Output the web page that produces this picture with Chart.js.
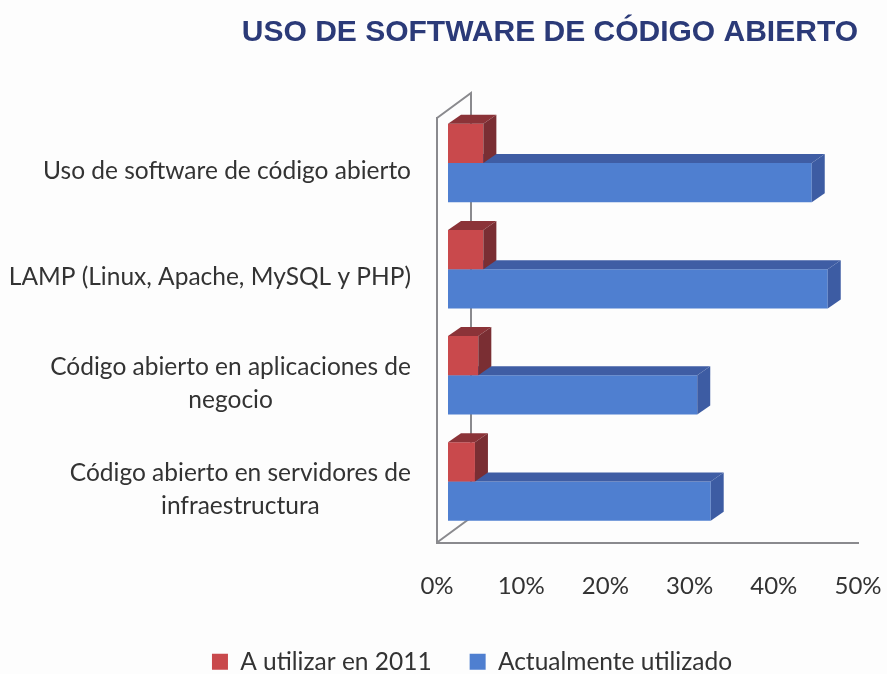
<!DOCTYPE html>
<html lang="es">
<head>
<meta charset="utf-8">
<title>Uso de software de código abierto</title>
<script src="https://cdn.jsdelivr.net/npm/chart.js@4/dist/chart.umd.js"></script>
<style>
  html, body { margin: 0; padding: 0; background: #fdfdfd; }
  canvas { display: block; }
</style>
</head>
<body>
<canvas id="softwareChart" width="887" height="674"></canvas>
<script>
const categories = [
  ['Uso de software de código abierto'],
  ['LAMP (Linux, Apache, MySQL y PHP)'],
  ['Código abierto en aplicaciones de', 'negocio'],
  ['Código abierto en servidores de', 'infraestructura']
];
const plannedValues = [4.2, 4.2, 3.6, 3.2];
const currentValues = [43.2, 45.1, 29.6, 31.2];
const xTicks = [0, 10, 20, 30, 40, 50];

const FONT = 'Lato, sans-serif';
const TEXT_COLOR = '#333333';
const WALL_COLOR = '#8a8a8e';

// bars sit a bit behind the front of the box
const FRONT_SHIFT = { x: 11, y: -8 };
const BAR_DEPTH = { x: 13, y: -9 };
const WALL_DEPTH = { x: 34, y: -25 };

const sideColors = [
  { top: '#8b3338', side: '#7a2e33' },
  { top: '#3f5da4', side: '#3d5ca3' }
];

function drawFace(ctx, points, color) {
  ctx.fillStyle = color;
  ctx.beginPath();
  points.forEach(([x, y], i) => (i ? ctx.lineTo(x, y) : ctx.moveTo(x, y)));
  ctx.closePath();
  ctx.fill();
}

const box3d = {
  id: 'box3d',
  beforeDatasetsDraw(chart) {
    const { ctx, chartArea: { left, top, bottom } } = chart;
    ctx.save();
    ctx.strokeStyle = WALL_COLOR;
    ctx.lineWidth = 2;
    ctx.beginPath();
    ctx.moveTo(left, top);
    ctx.lineTo(left + WALL_DEPTH.x, top + WALL_DEPTH.y);
    ctx.lineTo(left + WALL_DEPTH.x, bottom + WALL_DEPTH.y);
    ctx.lineTo(left, bottom);
    ctx.stroke();
    ctx.restore();
    // datasets are drawn shifted, undone in afterDatasetsDraw
    ctx.save();
    ctx.translate(FRONT_SHIFT.x, FRONT_SHIFT.y);
  },
  afterDatasetDraw(chart, args) {
    const { ctx } = chart;
    const colors = sideColors[args.index];
    chart.getDatasetMeta(args.index).data.forEach(bar => {
      const { x, y, base, height } = bar.getProps(['x', 'y', 'base', 'height'], true);
      const y0 = y - height / 2;
      const y1 = y + height / 2;
      const dx = BAR_DEPTH.x;
      const dy = BAR_DEPTH.y;
      drawFace(ctx, [[base, y0], [base + dx, y0 + dy], [x + dx, y0 + dy], [x, y0]], colors.top);
      drawFace(ctx, [[x, y0], [x + dx, y0 + dy], [x + dx, y1 + dy], [x, y1]], colors.side);
    });
  },
  afterDatasetsDraw(chart) {
    chart.ctx.restore();
    drawCategoryLabels(chart);
  }
};

// each label block is right aligned, its lines centred on each other
function drawCategoryLabels(chart) {
  const { ctx, scales: { y } } = chart;
  const labelRight = 411;
  const lineHeight = 33;
  ctx.save();
  ctx.font = '24.5px ' + FONT;
  ctx.fillStyle = TEXT_COLOR;
  ctx.textAlign = 'center';
  ctx.textBaseline = 'middle';
  categories.forEach((lines, i) => {
    const widest = Math.max(...lines.map(line => ctx.measureText(line).width));
    const centerX = labelRight - widest / 2;
    const firstY = y.getPixelForTick(i) - (lines.length - 1) * lineHeight / 2;
    lines.forEach((line, j) => ctx.fillText(line, centerX, firstY + j * lineHeight));
  });
  ctx.restore();
}

new Chart(document.getElementById('softwareChart'), {
  type: 'bar',
  data: {
    labels: categories,
    datasets: [
      { label: 'A utilizar en 2011', data: plannedValues, backgroundColor: '#c9494c' },
      { label: 'Actualmente utilizado', data: currentValues, backgroundColor: '#4f7fd0' }
    ]
  },
  options: {
    indexAxis: 'y',
    responsive: false,
    animation: false,
    layout: { padding: { left: 86, right: 29, top: 15, bottom: -10 } },
    datasets: { bar: { categoryPercentage: 0.74, barPercentage: 1, clip: false } },
    scales: {
      x: {
        min: 0,
        max: 50,
        afterBuildTicks: scale => { scale.ticks = xTicks.map(value => ({ value })); },
        afterFit: scale => {
          scale.height = 69;
          // tick padding would otherwise eat into the plot width
          scale.paddingLeft = 0;
          scale.paddingRight = 0;
        },
        grid: { display: false, drawTicks: false },
        border: { display: true, color: WALL_COLOR, width: 2 },
        ticks: {
          callback: value => value + '%',
          font: { family: FONT, size: 24 },
          color: TEXT_COLOR,
          padding: 29,
          maxRotation: 0
        }
      },
      y: {
        afterFit: scale => { scale.width = 351; },
        grid: { display: false, drawTicks: false },
        border: { display: true, color: WALL_COLOR, width: 2 },
        ticks: { display: false }
      }
    },
    plugins: {
      title: {
        display: true,
        text: 'USO DE SOFTWARE DE CÓDIGO ABIERTO',
        align: 'end',
        color: '#2b3a78',
        font: { family: '"Liberation Sans", Arial, sans-serif', size: 30, weight: 'bold' },
        padding: { top: 0, bottom: 67 }
      },
      legend: {
        position: 'bottom',
        labels: {
          boxWidth: 16,
          boxHeight: 16,
          padding: 38,
          color: TEXT_COLOR,
          font: { family: FONT, size: 24.5 }
        }
      },
      tooltip: { enabled: false }
    }
  },
  plugins: [box3d]
});
</script>
</body>
</html>
